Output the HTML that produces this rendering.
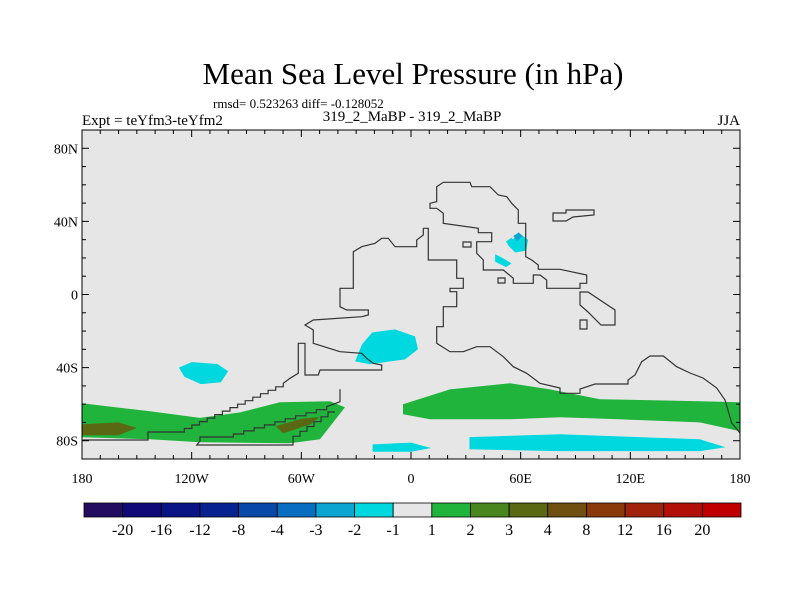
<!DOCTYPE html>
<html><head><meta charset="utf-8"><style>
body{margin:0;background:#fff;}
svg{display:block;font-family:"Liberation Serif",serif;}
</style></head><body>
<svg id="c" width="800" height="600" viewBox="0 0 800 600">
<rect width="800" height="600" fill="#fff"/>
<text x="413" y="84" font-size="31" text-anchor="middle">Mean Sea Level Pressure (in hPa)</text>
<text x="213" y="108" font-size="13">rmsd= 0.523263 diff= -0.128052</text>
<text x="82" y="125" font-size="15">Expt = teYfm3-teYfm2</text>
<text x="412" y="121" font-size="15" text-anchor="middle">319_2_MaBP - 319_2_MaBP</text>
<text x="740" y="125" font-size="15" text-anchor="end">JJA</text>
<g id="plot"></g>
<g id="cbar"></g>
</svg>
<script>
const NS="http://www.w3.org/2000/svg";
const latTicks=[80,40,0,-40,-80];
const latLabels=["80N","40N","0","40S","80S"];
const lonTicks=[-180,-120,-60,0,60,120,180];
const lonLabels=["180","120W","60W","0","60E","120E","180"];
const levels=["-20","-16","-12","-8","-4","-3","-2","-1","1","2","3","4","8","12","16","20"];
const colors=["#230d60","#100a78","#0a1484","#082290","#0848a8","#0a6ec0","#0ca4d0","#00d8e0","#e6e6e6","#20b43c","#4a861e","#5a6814","#705010","#8a3a0a","#a0220a","#b01008","#c00000"];
const regionLevels=[9,9,11,11,7,7,7,7,7,6,7,7];
const regionRings=[
 [[-180,-59.5],[-142.8,-63.9],[-115.5,-67.5],[-93.5,-64.5],[-71.7,-59],[-44.3,-58.4],[-36.1,-61.7],[-49.8,-79.2],[-66.2,-81.4],[-115.5,-80.8],[-142.8,-79.2],[-180,-78.1]],
 [[-4.4,-60],[21.3,-51.9],[54.2,-48.6],[76,-51.9],[103.4,-57.3],[158,-58.4],[180,-59],[180,-74.8],[158,-70],[114,-68.3],[81.5,-67.2],[54.2,-68.3],[10.4,-68.3],[-4.4,-65.5]],
 [[-180,-71],[-160,-70],[-150,-73],[-160,-77],[-180,-77]],
 [[-74,-72],[-60,-68],[-50,-67],[-55,-71],[-70,-76]],
 [[32,-78],[81.5,-76.5],[158,-79.2],[172,-83.6],[158,-85.7],[81.5,-85.7],[32,-84.7]],
 [[-21,-82],[0,-81],[11,-84],[0,-86],[-21,-86]],
 [[-26.8,-27.3],[-21.3,-20.8],[-8.8,-19.1],[2.2,-22.9],[3.8,-30],[-3.3,-35.5],[-11.5,-36.6],[-22.4,-38.2],[-30.6,-36.6]],
 [[-127,-40],[-120,-37],[-106,-38],[-100,-42],[-104,-48],[-115,-49],[-124,-45]],
 [[55,30],[60,33],[64,30],[63,24],[57,23],[53,27]],
 [[56,32],[59,34],[61,32],[58,29]],
 [[46,22],[50,20],[55,17],[52,15],[46,18]],
 [[52,29],[55,31],[57,28],[54,26]]
];
function stairs(x0,y0,x1,y1,n){let s="";const dx=(x1-x0)/n,dy=(y1-y0)/n;for(let i=1;i<=n;i++){s+=" L"+(x0+dx*(i-1)).toFixed(1)+","+(y0+dy*i).toFixed(1)+" L"+(x0+dx*i).toFixed(1)+","+(y0+dy*i).toFixed(1);}return s;}
const coasts=[
"M423.3,228.3 L428.3,228.3 L428.3,260 L456.7,260 L456.7,278.3 L463.3,278.3 L463.3,288.3 L450,288.3 L450,291.7 L456.7,291.7 L456.7,306.7 L443.3,306.7 L443.3,326.7 L436.7,326.7 L436.7,343.3 L450,351.7 L463.3,351.7 L476.7,346.7 L490,346.7 L503.3,356.7 L513.3,366.7 L526.7,373.3 L540,383.3 L560,388 L560,393.3 L580,393.3 L580,389 L595,384 L628,384 L628,380 L635,375 L641.7,361.7 L650,356 L663.3,356 L676.7,366.7 L690,373 L703,378 L716.7,388 L725,400 L731.7,423 L740,433",
"M423.3,228.3 L423.3,235 L416.7,240 L416.7,246.7 L395,246.7 L388.3,238.3 L381.7,238.3 L375,243.3 L361.7,246.7 L353.3,251.7 L353.3,288.3 L340,288.3 L340,306.7 L346.7,310 L368.3,310 L368.3,315 L361.7,316.7 L313.3,320 L305,325 L313.3,330 L313.3,343.3 L340,351.7 L361.7,353.3 L366.7,358.3 L373.3,363.3 L381.7,365 L381.7,370 L320,370 L318.3,375 L305,375 L305,343.3 L298.3,343.3 L298.3,373.3 L290,378.3 L283.3,383.3"+stairs(283.3,383.3,176.7,432,14)+" L148,432 L148,440 L82.7,440",
"M340,389.3 L340,401.7 L326.7,406.7"+stairs(326.7,406.7,223,437,10)+" L200,437 L200,441 L196.7,445 L293,445 L293,441"+stairs(293,441,335,412,6),
"M436.7,186.7 L443.3,182.3 L470,182.3 L471.7,186.7 L490,186.7 L498.3,195 L506.7,196.7 L511.7,203.3 L518.3,210 L518.3,223.3 L525.7,223.3 L525.7,256.7 L531.7,260 L538.3,265 L538.3,269.3 L560,269.3 L586.7,275 L586.7,283.3 L580,283.3 L580,288.3 L546.7,288.3 L546.7,280 L540,275 L533.3,275 L533.3,283.3 L513.3,283.3 L513.3,278.3 L503.3,270 L483.3,270 L483.3,260 L476.7,253.3 L476.7,241.7 L491.7,241.7 L491.7,232.7 L478.3,232.7 L478.3,228.3 L443.3,223.3 L443.3,213.3 L436.7,208.3 L430,208.3 L430,203.3 L436.7,201.7 Z",
"M553,213 L566,213 L566,210 L594,210 L594,215 L573,217 L566,221 L553,221 Z",
"M580,292 L588,292 L600,300 L615,310 L615,325 L601,325 L588,312 L580,305 Z",
"M580,320 L587,320 L587,329 L580,329 Z",
"M498,278 L505,278 L505,283 L498,283 Z",
"M463,242 L471,242 L471,247 L463,247 Z"
];
const X0=82,X1=740,Y0=130,Y1=459;
const xs=lon=>X0+(lon+180)/360*(X1-X0);
const ys=lat=>Y0+(90-lat)/180*(Y1-Y0);
const plot=document.getElementById('plot');
function mk(tag,attrs,parent){const e=document.createElementNS(NS,tag);for(const k in attrs)e.setAttribute(k,attrs[k]);(parent||plot).appendChild(e);return e;}
const bg=mk('rect',{x:X0,y:Y0,width:X1-X0,height:Y1-Y0,fill:"#e6e6e6"});


regionRings.forEach((ring,i)=>{
 const d="M"+ring.map(p=>xs(p[0]).toFixed(1)+","+ys(p[1]).toFixed(1)).join(" L")+" Z";
 const p=mk('path',{d:d,fill:colors[regionLevels[i]]});
 
 
});
coasts.forEach(d=>{
 const p=mk('path',{d:d,fill:"none",stroke:"#333",'stroke-width':1.2});
 
 
});
const fr=mk('rect',{x:X0,y:Y0,width:X1-X0,height:Y1-Y0,fill:"none",stroke:"#000",'stroke-width':1});


for(let lon=-180;lon<=180;lon+=10){const maj=lon%60===0;const L=maj?7:4;
 mk('line',{x1:xs(lon),x2:xs(lon),y1:Y1,y2:Y1-L,stroke:"#000"});
 mk('line',{x1:xs(lon),x2:xs(lon),y1:Y0,y2:Y0+L,stroke:"#000"});}
for(let lat=-90;lat<=90;lat+=10){const maj=lat%40===0;const L=maj?7:4;
 mk('line',{x1:X0,x2:X0+L,y1:ys(lat),y2:ys(lat),stroke:"#000"});
 mk('line',{x1:X1,x2:X1-L,y1:ys(lat),y2:ys(lat),stroke:"#000"});}
latTicks.forEach((v,i)=>{const t=mk('text',{x:X0-4,y:ys(v)+5,'font-size':14,'text-anchor':'end'});t.textContent=latLabels[i];
 
 });
lonTicks.forEach((v,i)=>{const t=mk('text',{x:xs(v),y:483,'font-size':14,'text-anchor':'middle'});t.textContent=lonLabels[i];
 
 });
const cb=document.getElementById('cbar');
const CX0=84,CX1=741,CY=503,CH=14,bw=(CX1-CX0)/colors.length;
colors.forEach((c,i)=>{const r=mk('rect',{x:CX0+i*bw,y:CY,width:bw,height:CH,fill:c,stroke:"#000",'stroke-width':0.8},cb);
 
 });
levels.forEach((l,i)=>{const t=mk('text',{x:CX0+(i+1)*bw,y:535,'font-size':16,'text-anchor':'middle'},cb);t.textContent=l;
 
 });
</script>
</body></html>
